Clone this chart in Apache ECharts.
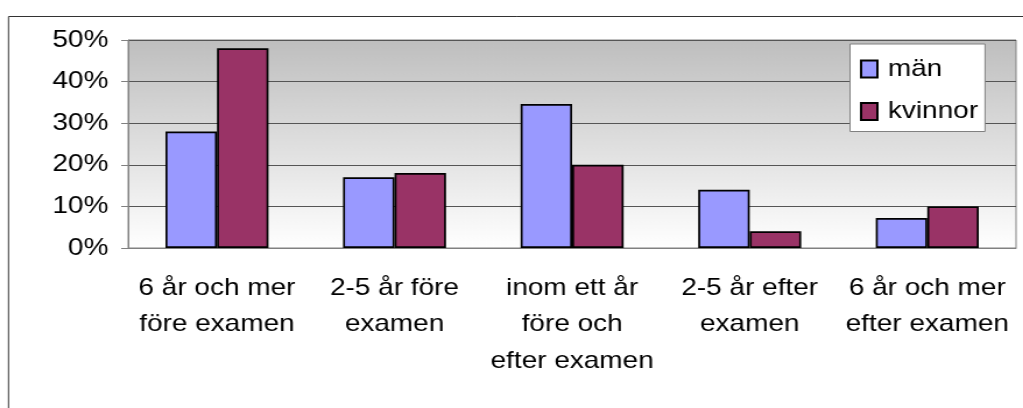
<!DOCTYPE html>
<html>
<head>
<meta charset="utf-8">
<script src="https://cdn.jsdelivr.net/npm/echarts@6/dist/echarts.min.js"></script>
<style>
  html, body { margin: 0; padding: 0; background: #fff; overflow: hidden; }
  /* originalbilden är något utdragen på bredden, så diagrammet ritas smalare och sträcks ut */
  #chart { width: 878px; height: 408px; transform: scaleX(1.1652); transform-origin: 0 0; }
</style>
</head>
<body>
<div id="chart"></div>
<script>
// kategorier (tid i förhållande till examen)
var categories = [
  '6 år och mer\nföre examen',
  '2-5 år före\nexamen',
  'inom ett år\nföre och\nefter examen',
  '2-5 år efter\nexamen',
  '6 år och mer\nefter examen'
];
// andelar i procent
var man = [28, 17, 34.6, 14, 7.2];
var kvinnor = [48, 18, 20, 4, 10];
var seriesNames = ['män', 'kvinnor'];
var yTicks = [0, 10, 20, 30, 40, 50];

var font = 'Liberation Sans, Arial, sans-serif';
var chart = echarts.init(document.getElementById('chart'));

chart.setOption({
  animation: false,
  textStyle: { fontFamily: font, color: '#000' },
  // ram runt hela diagrammet (fortsätter utanför bilden)
  graphic: [{
    type: 'rect',
    shape: { x: 7.3, y: 16.5, width: 900, height: 500 },
    style: { fill: 'none', stroke: '#333', lineWidth: 1 },
    z: -10
  }],
  grid: {
    left: 110, top: 40, right: 6, bottom: 160,
    show: true,
    borderColor: '#808080',
    borderWidth: 1,
    backgroundColor: new echarts.graphic.LinearGradient(0, 0, 0, 1, [
      { offset: 0, color: '#bebebe' },
      { offset: 1, color: '#ffffff' }
    ])
  },
  legend: {
    data: seriesNames,
    orient: 'vertical',
    left: 729.5, top: 44,
    itemWidth: 14, itemHeight: 17,
    itemGap: 18.5,
    icon: 'rect',
    padding: [13, 6, 8, 8.5],
    backgroundColor: '#fff',
    borderColor: '#808080',
    borderWidth: 1,
    borderRadius: 0,
    textStyle: { fontSize: 24, lineHeight: 24, fontFamily: font, color: '#000', padding: [0, 0, 0, 4] }
  },
  xAxis: {
    type: 'category',
    data: categories,
    axisLine: { lineStyle: { color: '#808080' } },
    axisTick: { length: 6, lineStyle: { color: '#808080' } },
    axisLabel: {
      interval: 0,
      margin: 22,
      fontSize: 24,
      lineHeight: 36.5,
      color: '#000',
      fontFamily: font
    }
  },
  yAxis: {
    type: 'value',
    min: yTicks[0],
    max: yTicks[yTicks.length - 1],
    interval: 10,
    axisLine: { show: true, lineStyle: { color: '#808080' } },
    axisTick: { show: true, length: 6, lineStyle: { color: '#808080' } },
    splitLine: { lineStyle: { color: '#555', width: 1 } },
    axisLabel: {
      margin: 17,
      fontSize: 24,
      color: '#000',
      fontFamily: font,
      formatter: '{value}%'
    }
  },
  series: [
    {
      name: seriesNames[0],
      type: 'bar',
      data: man,
      barGap: '0%',
      barCategoryGap: '42%',
      itemStyle: { color: '#9999ff', borderColor: '#000', borderWidth: 1.7 }
    },
    {
      name: seriesNames[1],
      type: 'bar',
      data: kvinnor,
      itemStyle: { color: '#993366', borderColor: '#000', borderWidth: 1.7 }
    }
  ]
});
</script>
</body>
</html>
